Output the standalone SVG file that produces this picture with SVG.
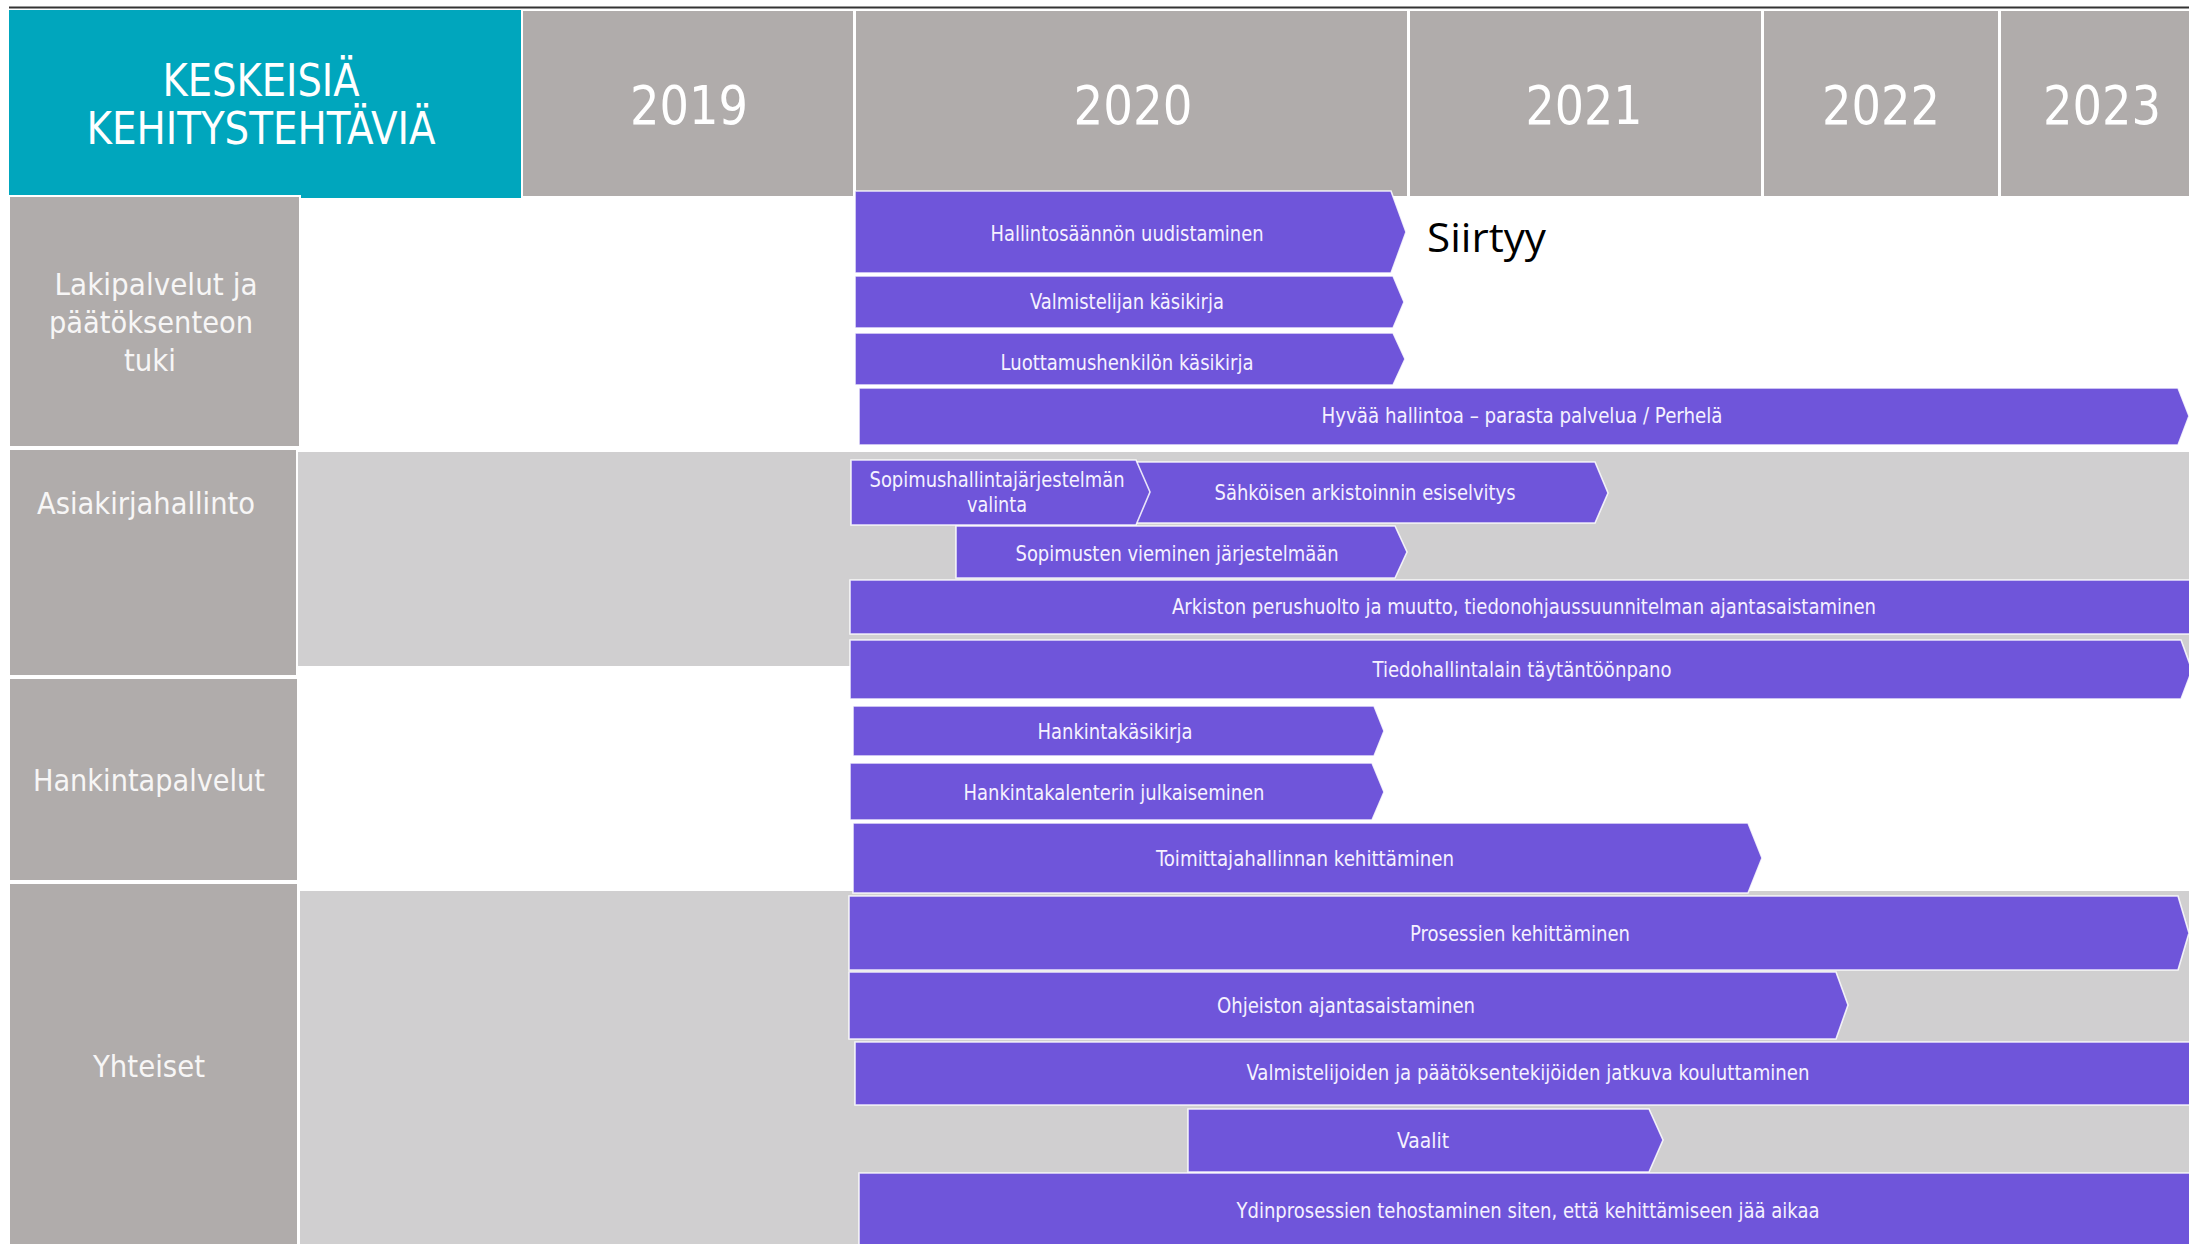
<svg xmlns="http://www.w3.org/2000/svg" width="2189" height="1244" viewBox="0 0 2189 1244">
<style>
.t{font-family:"DejaVu Sans Condensed","DejaVu Sans",sans-serif;font-stretch:condensed;text-anchor:middle}
.hd{fill:#b0acab;stroke:#ffffff;stroke-width:2}
.lb{fill:#b0acab;stroke:#ffffff;stroke-width:2}
.band{fill:#d0cfd0}
.bar{fill:#6f55da;stroke:#ffffff;stroke-width:1.6;stroke-opacity:0.85}
.yr{fill:#ffffff;font-size:53px}
.ll{fill:#f7f6f6;font-size:30px}
.bl{fill:#f5f1ff;font-size:21px}
</style>
<rect width="2189" height="1244" fill="#ffffff"/>
<line x1="9" y1="7.5" x2="2189" y2="7.5" stroke="#333333" stroke-width="2"/>
<g id="bands">
<rect class="band" x="298" y="452" width="1891" height="214"/>
<rect class="band" x="300" y="891" width="1889" height="353"/>
</g>
<g id="header">
<rect x="9" y="10" width="512" height="188" fill="#00a6bd"/>
<text class="t" x="261" y="96" fill="#ffffff" font-size="44" textLength="197" lengthAdjust="spacingAndGlyphs">KESKEISIÄ</text>
<text class="t" x="261" y="144" fill="#ffffff" font-size="44" textLength="349" lengthAdjust="spacingAndGlyphs">KEHITYSTEHTÄVIÄ</text>
</g>
<g id="year-2019"><rect class="hd" x="522" y="10" width="332" height="187"/><text class="t yr" x="689" y="124" textLength="118" lengthAdjust="spacingAndGlyphs">2019</text></g>
<g id="year-2020"><rect class="hd" x="855" y="10" width="553" height="187"/><text class="t yr" x="1133" y="124" textLength="119" lengthAdjust="spacingAndGlyphs">2020</text></g>
<g id="year-2021"><rect class="hd" x="1409" y="10" width="353" height="187"/><text class="t yr" x="1584" y="124" textLength="117" lengthAdjust="spacingAndGlyphs">2021</text></g>
<g id="year-2022"><rect class="hd" x="1763" y="10" width="236" height="187"/><text class="t yr" x="1881" y="124" textLength="118" lengthAdjust="spacingAndGlyphs">2022</text></g>
<g id="year-2023"><rect class="hd" x="2000" y="10" width="200" height="187"/><text class="t yr" x="2102" y="124" textLength="118" lengthAdjust="spacingAndGlyphs">2023</text></g>

<g id="cat-lakipalvelut"><rect class="lb" x="9" y="196" width="291" height="251"/>
<text class="t ll" x="156" y="295" textLength="203" lengthAdjust="spacingAndGlyphs">Lakipalvelut ja</text>
<text class="t ll" x="151" y="333" textLength="204" lengthAdjust="spacingAndGlyphs">päätöksenteon</text>
<text class="t ll" x="150" y="371" textLength="52" lengthAdjust="spacingAndGlyphs">tuki</text></g>
<g id="cat-asiakirjahallinto"><rect class="lb" x="9" y="449" width="288" height="227"/>
<text class="t ll" x="146" y="514" textLength="218" lengthAdjust="spacingAndGlyphs">Asiakirjahallinto</text></g>
<g id="cat-hankintapalvelut"><rect class="lb" x="9" y="678" width="289" height="203"/>
<text class="t ll" x="149" y="791" textLength="232" lengthAdjust="spacingAndGlyphs">Hankintapalvelut</text></g>
<g id="cat-yhteiset"><rect class="lb" x="9" y="883" width="289" height="370"/>
<text class="t ll" x="149" y="1077" textLength="112" lengthAdjust="spacingAndGlyphs">Yhteiset</text></g>

<g id="bar-hallintosaanto"><path class="bar" d="M855,191 H1391 L1406,232 L1391,273 H855 Z"/><text class="t bl" x="1127" y="241" textLength="273" lengthAdjust="spacingAndGlyphs">Hallintosäännön uudistaminen</text></g>
<g id="siirtyy"><text x="1427" y="252" font-family="'Open Sans','Noto Sans',sans-serif" font-size="41" fill="#000000" textLength="119" lengthAdjust="spacingAndGlyphs">Siirtyy</text></g>
<g id="bar-valmistelijan"><path class="bar" d="M855,276 H1393 L1404,302 L1393,328 H855 Z"/><text class="t bl" x="1127" y="309" textLength="194" lengthAdjust="spacingAndGlyphs">Valmistelijan käsikirja</text></g>
<g id="bar-luottamus"><path class="bar" d="M855,333 H1393 L1405,359 L1393,385 H855 Z"/><text class="t bl" x="1127" y="370" textLength="253" lengthAdjust="spacingAndGlyphs">Luottamushenkilön käsikirja</text></g>
<g id="bar-hyvaa"><path class="bar" d="M859,388 H2178 L2189,416 L2178,445 H859 Z"/><text class="t bl" x="1522" y="423" textLength="401" lengthAdjust="spacingAndGlyphs">Hyvää hallintoa – parasta palvelua / Perhelä</text></g>

<g id="bar-sahkoisen"><path class="bar" d="M1136,462 H1595 L1608,493 L1595,523 H1136 Z"/><text class="t bl" x="1365" y="500" textLength="301" lengthAdjust="spacingAndGlyphs">Sähköisen arkistoinnin esiselvitys</text></g>
<g id="bar-sopimushallinta"><path class="bar" d="M851,460 H1136 L1150,492 L1136,525 H851 Z"/><text class="t bl" x="997" y="487" textLength="255" lengthAdjust="spacingAndGlyphs">Sopimushallintajärjestelmän</text><text class="t bl" x="997" y="512" textLength="60" lengthAdjust="spacingAndGlyphs">valinta</text></g>
<g id="bar-sopimusten"><path class="bar" d="M956,526 H1395 L1407,552 L1395,578 H956 Z"/><text class="t bl" x="1177" y="561" textLength="323" lengthAdjust="spacingAndGlyphs">Sopimusten vieminen järjestelmään</text></g>
<g id="bar-arkiston"><path class="bar" d="M850,580 H2200 V634 H850 Z"/><text class="t bl" x="1524" y="614" textLength="704" lengthAdjust="spacingAndGlyphs">Arkiston perushuolto ja muutto, tiedonohjaussuunnitelman ajantasaistaminen</text></g>
<g id="bar-tiedohallinta"><path class="bar" d="M850,640 H2181 L2192,670 L2181,699 H850 Z"/><text class="t bl" x="1522" y="677" textLength="299" lengthAdjust="spacingAndGlyphs">Tiedohallintalain täytäntöönpano</text></g>

<g id="bar-hankintakasikirja"><path class="bar" d="M853,706 H1374 L1384,731 L1374,756 H853 Z"/><text class="t bl" x="1115" y="739" textLength="155" lengthAdjust="spacingAndGlyphs">Hankintakäsikirja</text></g>
<g id="bar-hankintakalenteri"><path class="bar" d="M850,763 H1372 L1384,792 L1372,820 H850 Z"/><text class="t bl" x="1114" y="800" textLength="301" lengthAdjust="spacingAndGlyphs">Hankintakalenterin julkaiseminen</text></g>
<g id="bar-toimittajahallinta"><path class="bar" d="M853,823 H1748 L1762,858 L1748,893 H853 Z"/><text class="t bl" x="1305" y="866" textLength="298" lengthAdjust="spacingAndGlyphs">Toimittajahallinnan kehittäminen</text></g>

<g id="bar-prosessien"><path class="bar" d="M849,896 H2178 L2189,933 L2178,970 H849 Z"/><text class="t bl" x="1520" y="941" textLength="220" lengthAdjust="spacingAndGlyphs">Prosessien kehittäminen</text></g>
<g id="bar-ohjeiston"><path class="bar" d="M849,972 H1836 L1848,1005 L1836,1039 H849 Z"/><text class="t bl" x="1346" y="1013" textLength="258" lengthAdjust="spacingAndGlyphs">Ohjeiston ajantasaistaminen</text></g>
<g id="bar-koulutus"><path class="bar" d="M855,1042 H2200 V1105 H855 Z"/><text class="t bl" x="1528" y="1080" textLength="563" lengthAdjust="spacingAndGlyphs">Valmistelijoiden ja päätöksentekijöiden jatkuva kouluttaminen</text></g>
<g id="bar-vaalit"><path class="bar" d="M1188,1109 H1649 L1663,1140 L1649,1172 H1188 Z"/><text class="t bl" x="1423" y="1148" textLength="52" lengthAdjust="spacingAndGlyphs">Vaalit</text></g>
<g id="bar-ydinprosessit"><path class="bar" d="M859,1173 H2200 V1260 H859 Z"/><text class="t bl" x="1528" y="1218" textLength="583" lengthAdjust="spacingAndGlyphs">Ydinprosessien tehostaminen siten, että kehittämiseen jää aikaa</text></g>
<g id="connectors"></g>
</svg>
